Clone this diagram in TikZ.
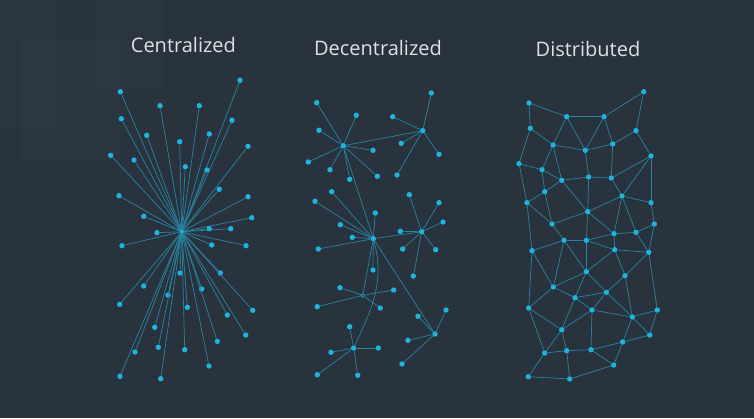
\documentclass[tikz,border=0pt]{standalone}
\usepackage{fontspec}
\setmainfont{Open Sans}
\usepackage{xcolor}
\usetikzlibrary{positioning}

\definecolor{bgcol}{HTML}{28333E}
\definecolor{linkcol}{HTML}{2884A0}
\definecolor{dotcol}{HTML}{1DB5E0}
\definecolor{titlecol}{HTML}{DCE2E6}

\tikzset{
  dot/.style={circle, fill=dotcol, inner sep=0pt, minimum size=5.4pt},
  junction/.style={circle, draw=dotcol, fill=bgcol, line width=0.6pt, inner sep=0pt, minimum size=3.6pt},
  link/.style={draw=linkcol, line width=0.7pt},
  title/.style={text=titlecol, font=\fontsize{20}{24}\selectfont, anchor=base}
}

\begin{document}
\begin{tikzpicture}[x=1pt, y=-1pt]

        % Background
        \fill[bgcol] (0,0) rectangle (754,418);
        \fill[white, opacity=0.012] (0,0) rectangle (58,130);
        \fill[white, opacity=0.01] (95,0) rectangle (165,90);
        \fill[white, opacity=0.01] (20,40) rectangle (120,160);
        \useasboundingbox (0,0) rectangle (754,418);

        % Titles
        \node[title] (tcen) at (183.4,52.5) {Centralized};
        \node[title] (tdec) at (378,55.5) {Decentralized};
        \node[title] (tdis) at (588,56) {Distributed};

        % Centralized
        \node[dot, minimum size=4.4pt] (hub) at (181.7,231.7) {};
        \foreach \n/\x/\y in {1/240/80.3, 2/120.3/91.7, 3/160/105.7, 4/199.3/105.7,
            5/121.3/118.7, 6/232/120.3, 7/146.7/135.3, 8/209.3/134, 9/179.7/141.7,
            10/248/146.3, 11/110.7/155.3, 12/134/160, 13/185.3/166.7, 14/207/170,
            15/219.3/189.3, 16/119/195.7, 17/248/196.7, 18/143.7/216.3, 19/251.7/217.7,
            20/209.3/228.7, 21/230.7/228.7, 22/157/232.7, 23/122/245.7, 24/211.7/245,
            25/246/245.7, 26/180/273, 27/220.3/273, 28/143.7/286, 29/201.7/289,
            30/168/295, 31/119.7/304.3, 32/252.7/310.3, 33/187.3/307.3, 34/227.3/315,
            35/154.7/327.3, 36/245.7/335, 37/217.3/341.3, 38/158.3/347.3, 39/135/352,
            40/184.7/349.7, 41/209/366, 42/120/376.3, 43/160.7/378.7} {
          \node[dot] (c\n) at (\x,\y) {};
          \draw[link] (hub) -- (c\n);
        }

        % Decentralized: hubs
        \node[dot] (h1) at (343.3,145.7) {};
        \node[dot] (h2) at (422.7,130.7) {};
        \node[dot] (h3) at (373.3,238.7) {};
        \node[dot] (h4) at (421.7,231.7) {};
        \node[junction] (h5) at (362.7,295.3) {};
        \node[dot] (h6) at (435,334) {};
        \node[dot] (h7) at (353.7,348) {};

        \draw[link] (h1) -- (h2);
        \draw[link] (h1) -- (h3);
        \draw[link] (h3) -- (h4);
        \draw[link] (h3) -- (h5);
        \draw[link] (h3) -- (h6);
        \draw[link] (h3) to[out=-75, in=65] (h7);

        % Decentralized: leaves
        \foreach \n/\x/\y in {a/316.7/102.7, b/356.3/115.3, c/319/130.3, d/373/150.3,
            e/308.3/162, f/330/169.7, g/349.7/179.3, h/377.3/176.3} {
          \node[dot] (h1\n) at (\x,\y) {};
          \draw[link] (h1) -- (h1\n);
        }
        \foreach \n/\x/\y in {a/431.3/93, b/392.7/116.7, c/401.3/143.3, d/439/154.3, e/397/175} {
          \node[dot] (h2\n) at (\x,\y) {};
          \draw[link] (h2) -- (h2\n);
        }
        \foreach \n/\x/\y in {a/331.7/191.7, b/315/201.3, c/375.3/213, d/340.3/224.7,
            e/352.3/237.3, f/318.3/249, g/373/270} {
          \node[dot] (h3\n) at (\x,\y) {};
          \draw[link] (h3) -- (h3\n);
        }
        \foreach \n/\x/\y in {a/409.3/194.7, b/439/202.7, c/443/222, d/400.3/231.3,
            e/402.7/249, f/435.7/249.7, g/413.3/276} {
          \node[dot] (h4\n) at (\x,\y) {};
          \draw[link] (h4) -- (h4\n);
        }
        \foreach \n/\x/\y in {a/340/287.7, b/393.7/290, c/317.3/306.7, d/380.3/308} {
          \node[dot] (h5\n) at (\x,\y) {};
          \draw[link] (h5) -- (h5\n);
        }
        \foreach \n/\x/\y in {a/446/310, b/418/316.3, c/408/340.3, d/402/364} {
          \node[dot] (h6\n) at (\x,\y) {};
          \draw[link] (h6) -- (h6\n);
        }
        \foreach \n/\x/\y in {a/349.7/326.7, b/378.3/348, c/331/352.3, d/317.3/374.7, e/357.7/375.3} {
          \node[dot] (h7\n) at (\x,\y) {};
          \draw[link] (h7) -- (h7\n);
        }

        % Distributed: nodes
        \foreach \n/\x/\y in {1/643.7/91.7, 2/529/103, 3/566.7/116.7, 4/604/116.7,
            5/530.3/128.3, 6/636/130.7, 7/553/145, 8/612.7/144, 9/585.3/150.3,
            10/651/156, 11/519/163.7, 12/542/169.7, 13/561.7/180.3, 14/588.7/177,
            15/611.3/178, 16/544.7/191.7, 17/622/196, 18/527/202.7, 19/651/202.7,
            20/587.7/211.7, 21/552/224, 22/654.3/224, 23/614/233.7, 24/636/232.3,
            25/564/240.3, 26/586.3/240.3, 27/532/250.7, 28/614.7/249.7, 29/648.7/252.3,
            30/586.3/271.7, 31/625/275.7, 32/553.3/287, 33/606.3/292.3, 34/575/297.7,
            35/528.7/308, 36/592/310, 37/657.3/310, 38/632.3/317, 39/561.7/329.7,
            40/649.7/335, 41/622.7/342, 42/544.7/353, 43/566.7/350.7, 44/591/349.7,
            45/613.7/365, 46/528.3/376.7, 47/569.7/379} {
          \node[dot] (d\n) at (\x,\y) {};
        }

        % Distributed: links
        \foreach \a/\b in {2/3, 3/4, 4/1, 1/6, 2/5, 5/11, 5/7, 3/7, 3/9, 4/9, 4/8,
            6/8, 6/10, 7/9, 9/8, 7/12, 7/13, 11/12, 12/13, 12/16, 16/13, 13/14, 9/14,
            14/15, 8/15, 10/15, 10/17, 10/19, 15/17, 11/18, 16/18, 16/21, 13/20, 14/20,
            17/20, 17/19, 17/23, 17/24, 19/22, 22/24, 22/29, 24/23, 24/29, 23/20,
            23/26, 23/28, 20/21, 20/26, 21/18, 21/25, 25/26, 25/27, 25/30, 25/32,
            26/28, 26/30, 28/29, 28/30, 28/31, 29/31, 29/37, 27/18, 27/32, 27/35,
            30/32, 30/33, 30/34, 31/33, 31/38, 32/34, 32/35, 34/33, 34/36, 34/39,
            33/36, 33/38, 36/38, 36/39, 36/44, 37/38, 37/40, 38/40, 38/41, 35/39,
            35/42, 39/42, 39/43, 42/43, 43/44, 43/47, 44/41, 44/45, 41/45, 40/41,
            42/46, 46/47, 47/45} {
          \draw[link] (d\a) -- (d\b);
        }

\end{tikzpicture}
\end{document}
